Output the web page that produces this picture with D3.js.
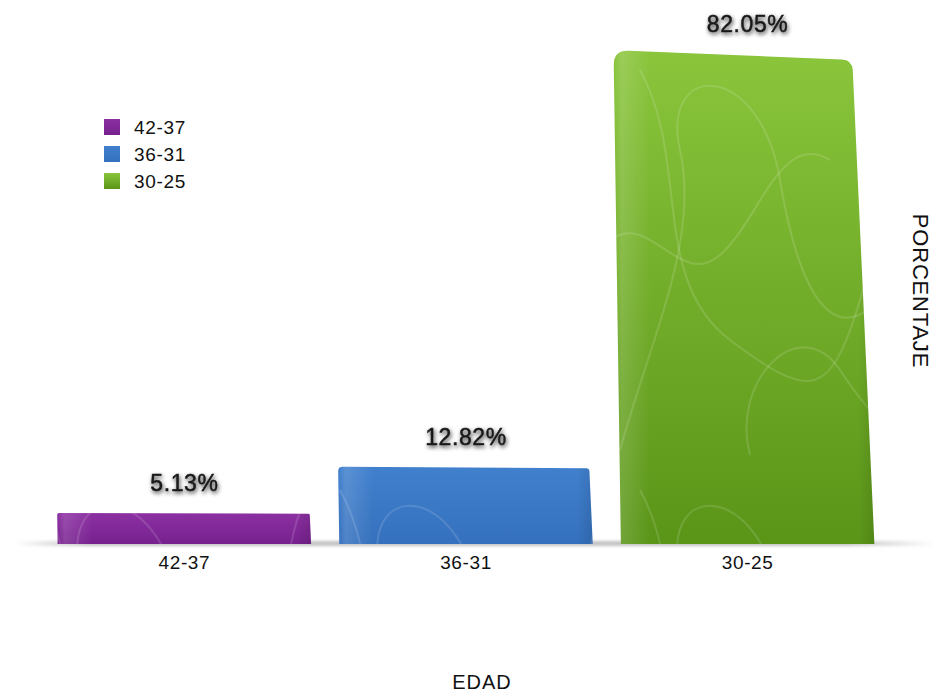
<!DOCTYPE html>
<html>
<head>
<meta charset="utf-8">
<script src="https://cdn.jsdelivr.net/npm/d3@7"></script>
<style>
  body { margin: 0; background: #fff; }
  svg { display: block; font-family: "Liberation Sans", Arial, Helvetica, sans-serif; }
</style>
</head>
<body>
<svg id="chart" width="935" height="693"></svg>
<script>
// Age groups and their share of respondents
const categories = ["42-37", "36-31", "30-25"];
const percentages = [5.13, 12.82, 82.05];
const valueLabels = ["5.13%", "12.82%", "82.05%"];
const legendLabels = ["42-37", "36-31", "30-25"];
const xTitle = "EDAD";
const yTitle = "PORCENTAJE";
const barColors = [
  { top: "#8c30a2", bottom: "#76218e" },
  { top: "#4180cd", bottom: "#3470bd" },
  { top: "#8ac53c", bottom: "#5a9518" }
];

const svg = d3.select("#chart");
const defs = svg.append("defs");

const baseY = 544;
const x = d3.scaleBand()
  .domain(categories)
  .range([52, 880])
  .paddingInner(0.1)
  .paddingOuter(0.02);
const y = d3.scaleLinear().domain([0, 82.05]).range([baseY, 54]);

// ---- gradients, texture and filters ----
barColors.forEach((c, i) => {
  const g = defs.append("linearGradient").attr("id", "barFill" + i)
    .attr("x1", 0).attr("y1", 0).attr("x2", 0).attr("y2", 1);
  g.append("stop").attr("offset", "0%").attr("stop-color", c.top);
  g.append("stop").attr("offset", "100%").attr("stop-color", c.bottom);
});

const sheen = defs.append("linearGradient").attr("id", "sheen")
  .attr("x1", 0).attr("y1", 0).attr("x2", 1).attr("y2", 0);
[[0, "#fff", 0.0], [0.03, "#fff", 0.14], [0.14, "#fff", 0.0], [0.94, "#000", 0.0], [1, "#000", 0.1]]
  .forEach(([o, c, a]) => sheen.append("stop").attr("offset", o).attr("stop-color", c).attr("stop-opacity", a));

// loose hand-drawn scribbles laid over the bar fills
const pat = defs.append("pattern").attr("id", "scribble")
  .attr("patternUnits", "userSpaceOnUse").attr("width", 300).attr("height", 420)
  .attr("x", 10).attr("y", 40);
[
  "M10,410 C40,300 90,200 70,110 S150,20 170,140 S230,330 290,230",
  "M30,30 C80,120 40,240 120,300 S220,360 250,260 S270,90 295,40",
  "M140,415 C120,340 190,270 230,330 S295,410 298,350",
  "M0,200 C40,170 70,250 110,215 S170,90 220,120"
].forEach(d => pat.append("path").attr("d", d)
  .attr("fill", "none").attr("stroke", "#fff").attr("stroke-opacity", 0.13).attr("stroke-width", 2));

const glow = defs.append("filter").attr("id", "labelShadow")
  .attr("x", "-20%").attr("y", "-50%").attr("width", "140%").attr("height", "200%");
glow.append("feDropShadow").attr("dx", 1).attr("dy", 2).attr("stdDeviation", 2)
  .attr("flood-color", "#000").attr("flood-opacity", 0.8);

const floorBlur = defs.append("filter").attr("id", "floorBlur")
  .attr("x", "-5%").attr("y", "-200%").attr("width", "110%").attr("height", "500%");
floorBlur.append("feGaussianBlur").attr("stdDeviation", 1.6);

const floorGrad = defs.append("linearGradient").attr("id", "floorGrad")
  .attr("x1", 0).attr("y1", 0).attr("x2", 1).attr("y2", 0);
[[0, 0], [0.08, 0.85], [0.9, 0.85], [1, 0]]
  .forEach(([o, a]) => floorGrad.append("stop").attr("offset", o).attr("stop-color", "#b8b8b8").attr("stop-opacity", a));

// ---- floor line under the bars ----
svg.append("rect")
  .attr("x", 15).attr("y", baseY - 3).attr("width", 920).attr("height", 5)
  .attr("fill", "url(#floorGrad)")
  .attr("filter", "url(#floorBlur)");

// ---- bar outline with a slight perspective lean and rounded top ----
function barPath(cat, value) {
  const x0 = x(cat), x1 = x0 + x.bandwidth();
  const yt = y(value), h = baseY - yt;
  const bl = [x0, baseY], br = [x1, baseY];
  const tl = [x0 - 0.015 * h, yt - 0.008 * h];
  const tr = [x1 - 0.045 * h, yt + 0.012 * h];
  const r = Math.min(15, h * 0.06);
  const towards = (a, b, d) => {
    const dx = b[0] - a[0], dy = b[1] - a[1], L = Math.hypot(dx, dy);
    return [a[0] + dx / L * d, a[1] + dy / L * d];
  };
  const a1 = towards(tl, bl, r), a2 = towards(tl, tr, r);
  const b1 = towards(tr, tl, r * 0.7), b2 = towards(tr, br, r * 0.7);
  return `M${bl}L${a1}Q${tl} ${a2}L${b1}Q${tr} ${b2}L${br}Z`;
}

const bars = svg.append("g").selectAll("g.bar")
  .data(categories.map((c, i) => ({ cat: c, value: percentages[i], i })))
  .join("g").attr("class", "bar");

bars.append("path").attr("d", d => barPath(d.cat, d.value)).attr("fill", d => `url(#barFill${d.i})`);
bars.append("path").attr("d", d => barPath(d.cat, d.value)).attr("fill", "url(#scribble)");
bars.append("path").attr("d", d => barPath(d.cat, d.value)).attr("fill", "url(#sheen)");

// ---- value labels ----
svg.append("g").selectAll("text")
  .data(categories.map((c, i) => ({ cat: c, value: percentages[i], label: valueLabels[i] })))
  .join("text")
  .attr("x", d => x(d.cat) + x.bandwidth() / 2)
  .attr("y", d => y(d.value) - 22)
  .attr("text-anchor", "middle")
  .attr("font-size", 23)
  .attr("letter-spacing", 0.6)
  .attr("fill", "#1a1a1a")
  .attr("stroke", "#1a1a1a")
  .attr("stroke-width", 0.5)
  .attr("filter", "url(#labelShadow)")
  .text(d => d.label);

// ---- category axis ----
const xAxis = svg.append("g")
  .attr("transform", `translate(0,${baseY})`)
  .call(d3.axisBottom(x).tickSize(0).tickPadding(12));
xAxis.select(".domain").remove();
xAxis.selectAll("text")
  .attr("font-size", 19)
  .attr("letter-spacing", 0.6)
  .attr("fill", "#111")
  .style("font-family", "'Liberation Sans', Arial, sans-serif");

// ---- axis titles ----
svg.append("text")
  .attr("x", 482).attr("y", 689)
  .attr("text-anchor", "middle")
  .attr("font-size", 20)
  .attr("letter-spacing", 1)
  .attr("fill", "#111")
  .text(xTitle);

svg.append("text")
  .attr("transform", "translate(913,291) rotate(90)")
  .attr("text-anchor", "middle")
  .attr("font-size", 22)
  .attr("letter-spacing", 0.8)
  .attr("fill", "#111")
  .text(yTitle);

// ---- legend ----
const legend = svg.append("g").attr("transform", "translate(104,119)");
const items = legend.selectAll("g").data(legendLabels).join("g")
  .attr("transform", (d, i) => `translate(0,${i * 27})`);
items.append("rect").attr("width", 16).attr("height", 16)
  .attr("fill", (d, i) => `url(#barFill${i})`);
items.append("text")
  .attr("x", 30).attr("y", 15)
  .attr("font-size", 19)
  .attr("letter-spacing", 0.7)
  .attr("fill", "#111")
  .text(d => d);
</script>
</body>
</html>
